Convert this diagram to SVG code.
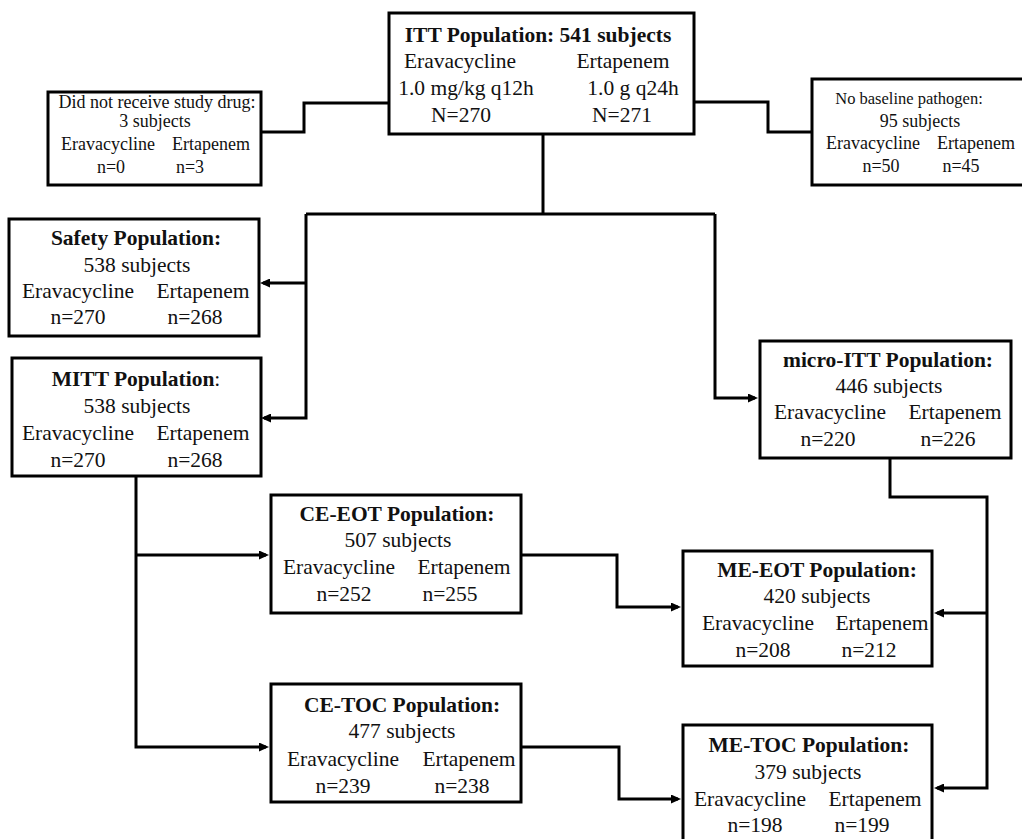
<svg xmlns="http://www.w3.org/2000/svg" width="1022" height="839" viewBox="0 0 1022 839">
<style>
.box{fill:#fff;stroke:#000;stroke-width:3}
.ln{fill:none;stroke:#000;stroke-width:3}
text{font-family:"Liberation Serif","Times New Roman",serif;fill:#111;text-anchor:middle}
.b{font-size:21.5px}
.s{font-size:18px}
.t{font-weight:bold}
.n{font-weight:normal}
</style>
<defs>
<marker id="ah" markerUnits="userSpaceOnUse" markerWidth="10" markerHeight="9" refX="7" refY="4.5" orient="auto">
<path d="M0,0 L10,4.5 L0,9 z" fill="#000"/>
</marker>
</defs>
<rect width="1022" height="839" fill="#fff"/>

<g id="connectors">
<path class="ln" d="M389,103 H304 V132 H261"/>
<path class="ln" d="M694,102 H768 V132 H812"/>
<path class="ln" d="M543,134 V214"/>
<path class="ln" d="M306,214 H715"/>
<path class="ln" d="M306,214 V418 H264" marker-end="url(#ah)"/>
<path class="ln" d="M306,283 H263" marker-end="url(#ah)"/>
<path class="ln" d="M715,214 V398 H755" marker-end="url(#ah)"/>
<path class="ln" d="M136,476 V747 H266" marker-end="url(#ah)"/>
<path class="ln" d="M136,555 H266" marker-end="url(#ah)"/>
<path class="ln" d="M521,555 H617 V607 H678" marker-end="url(#ah)"/>
<path class="ln" d="M521,747 H619 V799 H678" marker-end="url(#ah)"/>
<path class="ln" d="M890,458 V497 H987 V788 H937" marker-end="url(#ah)"/>
<path class="ln" d="M987,613 H937" marker-end="url(#ah)"/>
</g>

<g id="itt">
<rect class="box" x="389" y="13" width="305" height="121"/>
<text class="b t" x="538" y="42">ITT Population: 541 subjects</text>
<text class="b" x="460" y="68">Eravacycline</text>
<text class="b" x="623" y="68">Ertapenem</text>
<text class="b" x="466" y="95">1.0 mg/kg q12h</text>
<text class="b" x="633" y="95">1.0 g q24h</text>
<text class="b" x="461" y="122">N=270</text>
<text class="b" x="622" y="122">N=271</text>
</g>

<g id="no-drug">
<rect class="box" x="48" y="92" width="213" height="93"/>
<text class="s" x="157" y="108">Did not receive study drug:</text>
<text class="s" x="155" y="127">3 subjects</text>
<text class="s" x="108" y="150">Eravacycline</text>
<text class="s" x="211" y="150">Ertapenem</text>
<text class="s" x="111" y="173">n=0</text>
<text class="s" x="190" y="173">n=3</text>
</g>

<g id="no-pathogen">
<rect class="box" x="812" y="79" width="215" height="106"/>
<text class="s" x="909" y="104" style="font-size:16.5px">No baseline pathogen:</text>
<text class="s" x="920" y="127">95 subjects</text>
<text class="s" x="873" y="149">Eravacycline</text>
<text class="s" x="976" y="149">Ertapenem</text>
<text class="s" x="881" y="172">n=50</text>
<text class="s" x="961" y="172">n=45</text>
</g>

<g id="safety">
<rect class="box" x="9" y="219" width="250" height="117"/>
<text class="b t" x="136" y="245">Safety Population:</text>
<text class="b" x="137" y="272">538 subjects</text>
<text class="b" x="78" y="298">Eravacycline</text>
<text class="b" x="203" y="298">Ertapenem</text>
<text class="b" x="78" y="324">n=270</text>
<text class="b" x="195" y="324">n=268</text>
</g>

<g id="mitt">
<rect class="box" x="12" y="358" width="249" height="118"/>
<text class="b t" x="136" y="386">MITT Population<tspan class="n">:</tspan></text>
<text class="b" x="137" y="413">538 subjects</text>
<text class="b" x="78" y="440">Eravacycline</text>
<text class="b" x="203" y="440">Ertapenem</text>
<text class="b" x="78" y="467">n=270</text>
<text class="b" x="195" y="467">n=268</text>
</g>

<g id="micro-itt">
<rect class="box" x="760" y="341" width="251" height="117"/>
<text class="b t" x="888" y="367">micro-ITT Population:</text>
<text class="b" x="889" y="393">446 subjects</text>
<text class="b" x="830" y="419">Eravacycline</text>
<text class="b" x="955" y="419">Ertapenem</text>
<text class="b" x="828" y="446">n=220</text>
<text class="b" x="948" y="446">n=226</text>
</g>

<g id="ce-eot">
<rect class="box" x="271" y="495" width="250" height="118"/>
<text class="b t" x="397" y="521">CE-EOT Population:</text>
<text class="b" x="398" y="547">507 subjects</text>
<text class="b" x="339" y="574">Eravacycline</text>
<text class="b" x="464" y="574">Ertapenem</text>
<text class="b" x="344" y="601">n=252</text>
<text class="b" x="450" y="601">n=255</text>
</g>

<g id="ce-toc">
<rect class="box" x="271" y="684" width="250" height="118"/>
<text class="b t" x="402" y="712">CE-TOC Population:</text>
<text class="b" x="402" y="738">477 subjects</text>
<text class="b" x="343" y="766">Eravacycline</text>
<text class="b" x="469" y="766">Ertapenem</text>
<text class="b" x="343" y="793">n=239</text>
<text class="b" x="462" y="793">n=238</text>
</g>

<g id="me-eot">
<rect class="box" x="683" y="551" width="249" height="115"/>
<text class="b t" x="817" y="577">ME-EOT Population:</text>
<text class="b" x="817" y="603">420 subjects</text>
<text class="b" x="758" y="630">Eravacycline</text>
<text class="b" x="882" y="630">Ertapenem</text>
<text class="b" x="763" y="657">n=208</text>
<text class="b" x="869" y="657">n=212</text>
</g>

<g id="me-toc">
<rect class="box" x="683" y="725" width="249" height="125"/>
<text class="b t" x="809" y="752">ME-TOC Population:</text>
<text class="b" x="808" y="779">379 subjects</text>
<text class="b" x="750" y="806">Eravacycline</text>
<text class="b" x="875" y="806">Ertapenem</text>
<text class="b" x="755" y="832">n=198</text>
<text class="b" x="862" y="832">n=199</text>
</g>
</svg>
